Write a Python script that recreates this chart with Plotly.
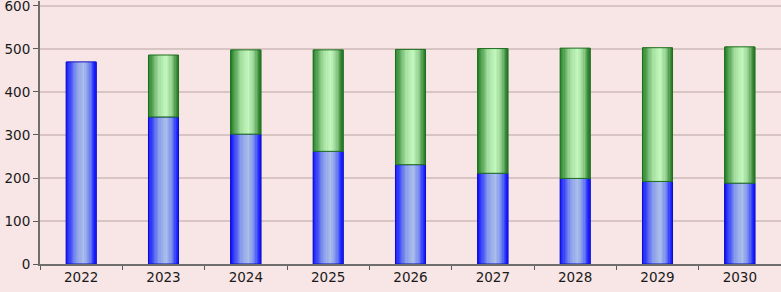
import plotly.graph_objects as go

years = ["2022", "2023", "2024", "2025", "2026", "2027", "2028", "2029", "2030"]
blue_values = [470, 342, 302, 262, 231, 211, 199, 192, 188]
green_values = [None, 144, 196, 236, 268, 290, 303, 311, 317]
y_ticks = [0, 100, 200, 300, 400, 500, 600]

BAR_W = 0.365
K = 24


def lerp(c1, c2, t):
    return tuple(round(a + (b - a) * t) for a, b in zip(c1, c2))


def profile(stops, t):
    for (t0, c0), (t1, c1) in zip(stops, stops[1:]):
        if t0 <= t <= t1:
            return lerp(c0, c1, (t - t0) / (t1 - t0) if t1 > t0 else 0)
    return stops[-1][1]


blue_stops = [(0.0, (20, 20, 255)), (0.12, (50, 60, 250)), (0.35, (135, 155, 236)),
              (0.6, (172, 192, 234)), (0.8, (115, 135, 240)), (0.93, (40, 50, 252)), (1.0, (20, 20, 255))]
green_stops = [(0.0, (40, 130, 40)), (0.12, (75, 155, 75)), (0.35, (165, 222, 160)),
               (0.6, (195, 248, 190)), (0.8, (145, 205, 140)), (0.93, (65, 145, 65)), (1.0, (40, 120, 40))]

green_base = blue_values

fig = go.Figure()


def add_series(values, base, stops, line_color):
    for i in range(K):
        t = (i + 0.5) / K
        c = profile(stops, t)
        fig.add_trace(go.Bar(
            x=years, y=values, base=base,
            width=BAR_W / K * 1.4, offset=-BAR_W / 2 + i * BAR_W / K,
            marker=dict(color="rgb(%d,%d,%d)" % c, line=dict(width=0)),
            hoverinfo="skip", showlegend=False,
        ))
    fig.add_trace(go.Bar(
        x=years, y=values, base=base, width=BAR_W, offset=-BAR_W / 2,
        marker=dict(color="rgba(0,0,0,0)", line=dict(color=line_color, width=1)),
        showlegend=False,
    ))


add_series(blue_values, [0] * len(years), blue_stops, "#1010c0")
add_series(green_values, green_base, green_stops, "#1f6f1f")

fig.update_layout(
    width=781, height=292,
    margin=dict(l=40, r=0, t=1, b=28, autoexpand=False),
    paper_bgcolor="#f8e5e5", plot_bgcolor="#f8e5e5",
    barmode="overlay",
    font=dict(family="DejaVu Sans", size=13.5, color="#1a1a1a"),
)
fig.update_xaxes(
    type="category", tickson="boundaries", ticks="outside", ticklen=4,
    tickcolor="#5a5a5a", showline=True, linecolor="#6e6e6e", linewidth=2,
    showgrid=False, range=[-0.5, 8.5], automargin=False,
)
fig.update_yaxes(
    range=[0, 611.6], tickvals=y_ticks, ticks="outside", ticklen=5,
    tickcolor="#5a5a5a", showline=True, linecolor="#6e6e6e", linewidth=2,
    gridcolor="#d9c4c4", gridwidth=1.5, zeroline=False, automargin=False,
    ticklabeloverflow="allow",
)

fig.write_html(
    "out.html",
    config={"displayModeBar": False},
    post_script="document.body.style.margin='0';document.body.style.padding='0';document.body.style.overflow='hidden';",
)
